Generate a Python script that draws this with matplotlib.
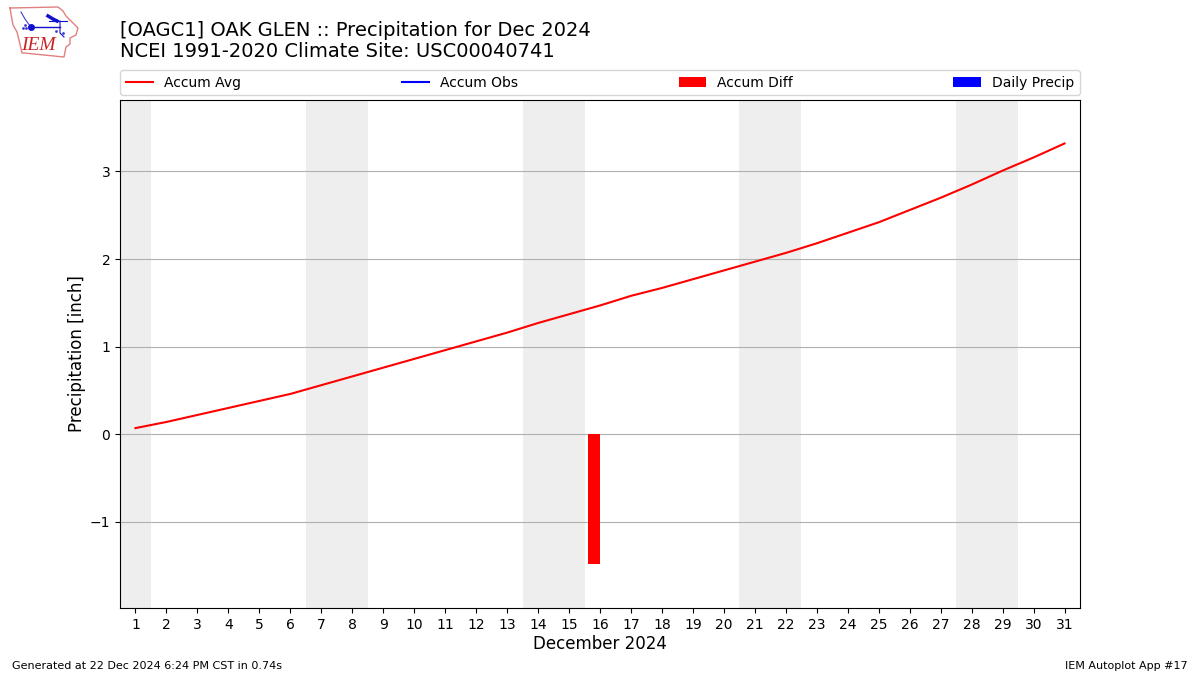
""" IEM autoplot 17 style monthly precip chart """

import datetime

import numpy as np
import matplotlib
matplotlib.use("Agg")
import matplotlib.pyplot as plt

days = list(range(1, 32))
accum_avg = [0.07, 0.14, 0.22, 0.30, 0.38, 0.46, 0.56, 0.66, 0.76, 0.86, 0.96,
             1.06, 1.16, 1.27, 1.37, 1.47, 1.58, 1.67, 1.77, 1.87, 1.97, 2.07,
             2.18, 2.30, 2.42, 2.56, 2.70, 2.85, 3.01, 3.16, 3.32]
# nothing observed, so the obs line and daily bars draw nothing
accum_obs = [np.nan] * 31
daily_precip = [np.nan] * 31
diff_days = [16]
accum_diff = [-1.48]

title = ("[OAGC1] OAK GLEN :: Precipitation for Dec 2024\n"
         "NCEI 1991-2020 Climate Site: USC00040741")

fig = plt.figure(figsize=(12, 6.75), dpi=100)
ax = fig.add_axes([0.1, 0.0993, 0.8, 0.7525])

# shade the weekends
for day in days:
    if datetime.date(2024, 12, day).weekday() >= 5:
        ax.axvspan(day - 0.5, day + 0.5, color="#eeeeee", lw=0, zorder=0)

ax.plot(days, accum_avg, color="red", label="Accum Avg", zorder=3)
ax.plot(days, accum_obs, color="blue", label="Accum Obs", zorder=3)
ax.bar(diff_days, accum_diff, width=-0.4, align="edge", color="red",
       label="Accum Diff", zorder=2)
ax.bar(days, daily_precip, color="blue", label="Daily Precip", zorder=2)

ax.set_xlim(0.5, 31.5)
ax.set_ylim(-1.984, 3.816)
ax.set_xticks(days)
ax.set_yticks([-1, 0, 1, 2, 3])
ax.grid(True, axis="y", zorder=1)
ax.set_axisbelow(True)
ax.set_xlabel("December 2024", fontsize=12, labelpad=2.7)
ax.set_ylabel("Precipitation [inch]", fontsize=12, labelpad=3)
ax.legend(loc="lower left", bbox_to_anchor=(0, 1.0095, 1, 0.102), ncol=4,
          mode="expand", borderaxespad=0, fontsize=10)

fig.text(120 / 1200, 1 - 61 / 675, title, fontsize=14, ha="left", va="bottom",
         linespacing=1.1)
fig.text(12 / 1200, 1 - 671 / 675, "Generated at 22 Dec 2024 6:24 PM CST in 0.74s",
         fontsize=8, ha="left", va="bottom")
fig.text(1188 / 1200, 1 - 671 / 675, "IEM Autoplot App #17",
         fontsize=8, ha="right", va="bottom")

# rough version of the IEM logo, in pixel coords
logo = fig.add_axes([0, 1 - 60 / 675, 80 / 1200, 60 / 675])
logo.set_xlim(0, 80)
logo.set_ylim(60, 0)
logo.axis("off")
outline_x = [10, 58, 63, 66, 70, 78, 76, 70, 70, 66, 64, 24, 22, 19, 17, 13, 11, 10]
outline_y = [8, 7, 11, 16, 20, 28, 35, 38, 44, 47, 57, 53, 53, 40, 32, 25, 14, 8]
logo.plot(outline_x, outline_y, color="#e08080", lw=1)
logo.plot([31, 60], [27, 27], color="#1010d0", lw=1)
logo.plot([21, 25, 30], [12, 19, 26], color="#4040d0", lw=0.8)
logo.plot([31], [27], "o", color="#1010d0", ms=4)
logo.plot([48, 53, 57], [16, 19, 21], color="#1010d0", lw=2.5)
logo.plot([49, 67], [21, 21], color="#1010d0", lw=0.8)
logo.plot([60, 60, 64], [21, 33, 37], color="#1010d0", lw=0.8)
logo.plot([23, 25, 26, 56, 63], [28, 25, 28, 31, 33], ".", color="#4040d0", ms=2)
logo.text(21, 46, "IEM", color="#cc2222", fontsize=14, family="Liberation Serif",
          style="italic", ha="left", va="center")

fig.savefig("out.png", dpi=100)
